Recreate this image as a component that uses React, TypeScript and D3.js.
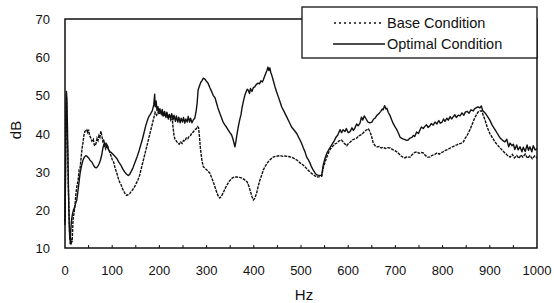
import * as d3 from "d3";
import { useEffect } from "react";

// frequency (Hz) and level (dB)
const baseHz = [
  0, 1, 2, 3, 4, 5, 6, 7, 8, 9, 10, 11, 12, 13, 14, 15, 16, 17, 19, 21, 23, 25, 28, 30, 32, 34, 36, 38, 40, 42, 44, 46, 48, 50,
  52, 54, 57, 60, 62, 64, 66, 68, 70, 72, 74, 76, 78, 80, 82, 84, 86, 88, 90, 92, 95, 98, 100, 103, 106, 110, 113, 116, 119,
  122, 125, 128, 131, 134, 137, 140, 143, 146, 149, 152, 155, 158, 161, 164, 167, 170, 173, 176, 179, 182, 185, 188, 191, 194,
  197, 200, 203, 206, 209, 212, 215, 218, 221, 224, 227, 229, 231, 233, 236, 239, 242, 245, 248, 251, 254, 257, 260, 263, 266,
  269, 272, 275, 278, 281, 283, 285, 287, 290, 293, 297, 300, 304, 307, 311, 315, 319, 322, 325, 328, 331, 335, 339, 343, 348,
  354, 359, 364, 370, 375, 380, 386, 390, 393, 396, 399, 402, 406, 410, 413, 417, 420, 425, 430, 435, 441, 446, 451, 456, 461,
  466, 471, 476, 480, 486, 492, 498, 505, 512, 519, 526, 533, 540, 544, 547, 551, 556, 561, 566, 571, 576, 581, 586, 591, 597,
  601, 604, 609, 614, 618, 622, 626, 629, 633, 637, 640, 643, 646, 649, 653, 657, 661, 666, 670, 674, 679, 684, 689, 694, 699,
  703, 708, 712, 716, 720, 724, 727, 731, 735, 740, 745, 750, 755, 759, 764, 768, 773, 778, 783, 788, 793, 797, 801, 806, 811,
  816, 821, 826, 830, 835, 840, 844, 848, 851, 854, 858, 862, 866, 869, 872, 875, 879, 883, 886, 890, 895, 900, 905, 911, 916,
  922, 927, 932, 937, 943, 948, 952, 957, 962, 966, 970, 975, 980, 985, 990, 995, 1000,
];
const baseDb = [
  17, 30, 46, 50, 45, 38, 33, 26, 22, 17, 13, 11, 12, 10.8, 12.5, 11.5, 14, 17.5, 19, 21, 24, 26, 28, 30.5, 31, 33.5, 36, 37.5,
  39.5, 40.5, 40.8, 41, 40.3, 41, 39.5, 39, 38, 38.5, 37, 36.8, 37.5, 38.8, 38.2, 39.5, 39, 40.6, 39.5, 38, 38.5, 36.5, 36,
  37.2, 36.8, 36, 35, 34, 33.2, 32.5, 31, 29.5, 28.2, 27.2, 26.5, 25.5, 24.8, 24, 23.8, 24, 24.2, 24.8, 25.2, 25.8, 26.4, 27.2,
  28, 29, 30.5, 32, 33.5, 35, 36.5, 38, 39.5, 41, 42.5, 44, 45.5, 44.8, 45.6, 45, 46, 44.8, 45.5, 44.5, 45.3, 44, 45, 43.5,
  44.2, 41.5, 39.5, 38.5, 38, 37.5, 37.2, 37.8, 37.4, 38.2, 38, 38.8, 38.6, 39.3, 39.5, 40.2, 40.4, 41, 41.2, 41.8, 41.5, 39,
  36, 33, 31.3, 30.8, 30.5, 30, 29.6, 28.3, 27, 25.5, 24.4, 23.5, 23.1, 23.5, 24.4, 25.5, 26.5, 27.5, 28.3, 28.6, 28.6, 28.5,
  28.3, 27.9, 27.3, 26, 24.8, 23.5, 22.6, 23, 24.4, 26.5, 27.8, 29.2, 30.4, 31.6, 32.5, 33.2, 33.8, 34, 34.1, 34.2, 34, 34.1,
  34, 33.9, 33.8, 33.4, 33, 32.3, 31.7, 30.8, 29.9, 29.2, 28.6, 28.7, 28.8, 31, 32.5, 34.3, 35.7, 36.5, 37.2, 37.5, 38.1,
  38.3, 37.5, 36.8, 37.5, 37.7, 38.3, 38.6, 38.8, 39.4, 39.6, 39.8, 40.3, 40.8, 41, 41.2, 40.5, 39.5, 37.5, 36.8, 36.5, 36.6,
  36.2, 36.4, 36.1, 36.3, 36.2, 35.8, 35.5, 35.2, 34.6, 34.1, 33.8, 33.6, 33.9, 33.8, 33.8, 34.4, 35, 35.2, 34.8, 35, 34.9,
  34.2, 33.8, 33.8, 34.3, 34.5, 34.9, 34.6, 35, 35.2, 35.6, 35.8, 36.2, 36.5, 36.8, 37, 37.3, 37.5, 37.8, 38.8, 39.3, 40, 41,
  42.2, 43.5, 44.3, 45, 45.6, 45.9, 45.9, 44.8, 43.5, 41.5, 40, 39, 37.8, 37, 36.2, 35.5, 34.9, 34.3, 33.8, 34.5, 33.6, 34.2,
  33.5, 34.4, 33.8, 34.6, 33.5, 34.2, 33.4, 34.1, 33.6,
];

const optHz = [
  0, 1, 2, 3, 4, 5, 6, 7, 8, 9, 10, 11, 12, 13, 14, 16, 18, 20, 22, 25, 28, 30, 32, 35, 38, 41, 44, 47, 50, 53, 57, 60, 63,
  66, 69, 72, 75, 78, 80, 82, 84, 86, 88, 90, 92, 95, 98, 102, 106, 110, 114, 118, 122, 126, 130, 134, 137, 140, 144, 147,
  150, 153, 157, 160, 164, 167, 171, 175, 178, 182, 185, 188, 190, 191, 193, 195, 197, 199, 201, 204, 206, 209, 211, 214,
  216, 219, 221, 224, 226, 229, 231, 234, 236, 239, 241, 244, 246, 249, 251, 254, 256, 259, 261, 264, 266, 269, 272, 275,
  278, 280, 282, 285, 288, 290, 293, 297, 300, 303, 307, 311, 314, 318, 321, 324, 328, 332, 335, 339, 342, 346, 349, 353,
  356, 358, 360, 362, 364, 367, 370, 373, 375, 378, 381, 384, 386, 388, 391, 393, 396, 399, 402, 405, 409, 412, 415, 418,
  420, 423, 426, 428, 430, 432, 434, 436, 438, 441, 445, 448, 452, 455, 459, 464, 470, 475, 480, 486, 491, 495, 498, 502,
  505, 509, 512, 516, 519, 522, 526, 530, 533, 536, 540, 544, 547, 551, 555, 560, 565, 570, 574, 578, 581, 583, 586, 589,
  593, 596, 600, 604, 608, 611, 614, 618, 621, 625, 628, 631, 634, 638, 642, 646, 650, 654, 657, 661, 665, 669, 672, 674,
  677, 680, 682, 685, 689, 692, 695, 699, 703, 706, 710, 713, 716, 720, 724, 727, 731, 735, 738, 741, 745, 749, 752, 755,
  759, 762, 766, 769, 773, 776, 780, 784, 788, 792, 795, 799, 802, 805, 809, 812, 816, 819, 822, 826, 829, 833, 837, 841,
  845, 848, 852, 856, 860, 865, 868, 872, 875, 879, 882, 885, 890, 895, 900, 905, 911, 916, 922, 927, 932, 936, 940, 943,
  947, 950, 953, 957, 960, 964, 968, 971, 975, 979, 982, 985, 989, 992, 996, 1000,
];
const optDb = [
  16, 28, 42, 51, 49, 43, 36, 28, 21, 16, 13, 12, 14, 16, 17.5, 19, 20, 20.5, 21.5, 22.6, 25.5, 27.5, 29.6, 31.5, 33, 33.8,
  34.2, 34, 33.6, 33, 32.5, 31.8, 31.2, 31, 31.3, 32, 33, 34.5, 36, 37, 37.6, 37.2, 36.4, 36.8, 35.8, 35.3, 35, 34.5, 34,
  33.4, 32.5, 31.8, 30.8, 30, 29.4, 29, 29.3, 30, 31, 32, 33, 34, 35.5, 36.8, 38.5, 40, 42, 43.6, 44.5, 45.3, 46, 47.5, 50.3,
  47, 48.5, 46, 47, 45.5, 46.5, 45, 46.3, 44.6, 45.8, 44.2, 45.5, 43.8, 45, 44, 45.2, 43.6, 44.8, 43.2, 44.6, 43, 44.3, 42.8,
  44, 43, 44.2, 42.7, 43.8, 43, 44.5, 43, 44, 42.8, 43.6, 44, 46, 48, 51.4, 52.5, 53.5, 53.8, 54.5, 54.2, 53.6, 53.2, 52,
  50.9, 50, 49.3, 48, 46.7, 45.3, 44, 43, 42.2, 41.7, 40.9, 40.3, 39.6, 38.5, 37.5, 36.5, 37.8, 39.5, 41.7, 43.5, 45, 46.7,
  48.5, 50, 51, 51.6, 51.4, 50.5, 51.8, 51, 52, 52.2, 52.8, 53.2, 53, 53.8, 53.5, 54, 55, 56, 56.6, 57.4, 56.5, 57.2, 56,
  55.3, 54, 52.2, 51, 49.6, 48.5, 47, 45.8, 44.3, 43, 41.7, 40.8, 40, 39, 38.3, 37.2, 36.2, 35, 33.8, 33, 32.3, 31.3, 30.4,
  29.6, 29.2, 29.1, 29, 29.1, 31.7, 33.5, 34.9, 36, 37, 38, 39, 39.6, 40.5, 41, 40.2, 41, 40.5, 41.3, 40.2, 40.5, 41.5, 40.8,
  41.4, 42.5, 42, 42.7, 44.3, 43.5, 44.6, 43.8, 43, 42.8, 43, 43.8, 44, 44.8, 45.2, 45.8, 46.4, 46.2, 47.3, 46.4, 46.6, 45.5,
  44.6, 43.6, 42.7, 41.8, 41, 40.2, 39, 38.8, 38.6, 38.4, 38.2, 38.3, 38.8, 39, 39.5, 39.2, 40.4, 40, 40.9, 41.7, 41.3, 41.8,
  42.3, 41.6, 42, 42.6, 42.2, 43, 42.5, 43.4, 42.7, 43, 43.8, 43.2, 44, 43.5, 44.4, 43.8, 44.3, 44.9, 44.2, 44.8, 44.6, 45.4,
  44.8, 45.6, 45.8, 45.3, 46.2, 45.9, 46.5, 46.8, 47, 46.7, 47.2, 46, 45.4, 44.5, 43.5, 42.2, 41, 40, 38.8, 38.2, 37.8, 38.5,
  36.5, 37.5, 36.8, 37.2, 35.8, 37, 35.7, 36.5, 35.2, 36.4, 35.3, 37, 35.6, 36.5, 35.2, 36.8, 35.7, 36,
];

const xTicks = [0, 100, 200, 300, 400, 500, 600, 700, 800, 900, 1000];
const xMinorTicks = [50, 100, 150, 200, 250, 300, 350, 400, 450, 500, 550, 600, 650, 700, 750, 800, 850, 900, 950];
const yTicks = [10, 20, 30, 40, 50, 60, 70];
const legendLabels = ["Base Condition", "Optimal Condition"];

const W = 554;
const H = 303;
const FONT = "'Liberation Sans', Arial, sans-serif";

export default function App() {
  useEffect(() => {
    document.body.style.margin = "0";
  }, []);

  const x = d3.scaleLinear().domain([0, 1000]).range([65, 537]);
  const y = d3.scaleLinear().domain([10, 70]).range([248, 19]);

  const line = d3
    .line<[number, number]>()
    .x((d) => x(d[0]))
    .y((d) => y(d[1]));

  const basePath = line(baseHz.map((h, i) => [h, baseDb[i]])) || "";
  const optPath = line(optHz.map((h, i) => [h, optDb[i]])) || "";

  return (
    <svg width={W} height={H} style={{ display: "block", background: "#fff" }}>
      {/* frame */}
      <rect x={65} y={19} width={472} height={229} fill="none" stroke="#111" strokeWidth={1.5} />

      {/* small inward ticks on the Hz axis */}
      {xMinorTicks.map((t) => (
        <line key={t} x1={x(t)} x2={x(t)} y1={248} y2={245} stroke="#111" strokeWidth={1} />
      ))}

      {/* data */}
      <path d={optPath} fill="none" stroke="#111" strokeWidth={1.4} strokeLinejoin="round" />
      <path d={basePath} fill="none" stroke="#111" strokeWidth={1.4} strokeDasharray="3,1" />

      {/* y labels */}
      {yTicks.map((t) => (
        <text key={t} x={50} y={y(t) + 5} textAnchor="end" fontFamily={FONT} fontSize={13} fill="#111">
          {t}
        </text>
      ))}
      {/* x labels */}
      {xTicks.map((t) => (
        <text key={t} x={x(t)} y={275} textAnchor="middle" fontFamily={FONT} fontSize={13} fill="#111">
          {t}
        </text>
      ))}

      <text x={304} y={300} textAnchor="middle" fontFamily={FONT} fontSize={15} fill="#111">
        Hz
      </text>
      <text
        transform="translate(21,130) rotate(-90)"
        textAnchor="middle"
        fontFamily={FONT}
        fontSize={15}
        fill="#111"
      >
        dB
      </text>

      {/* legend */}
      <rect x={302} y={7} width={235} height={51} fill="#fff" stroke="#111" strokeWidth={1.3} />
      <line x1={334} x2={384} y1={23} y2={23} stroke="#111" strokeWidth={1.3} strokeDasharray="2,3" />
      <line x1={333} x2={385} y1={44} y2={44} stroke="#111" strokeWidth={1.3} />
      <text x={387} y={27.5} fontFamily={FONT} fontSize={14.5} fill="#111">
        {legendLabels[0]}
      </text>
      <text x={387} y={49} fontFamily={FONT} fontSize={14.5} fill="#111">
        {legendLabels[1]}
      </text>
    </svg>
  );
}
